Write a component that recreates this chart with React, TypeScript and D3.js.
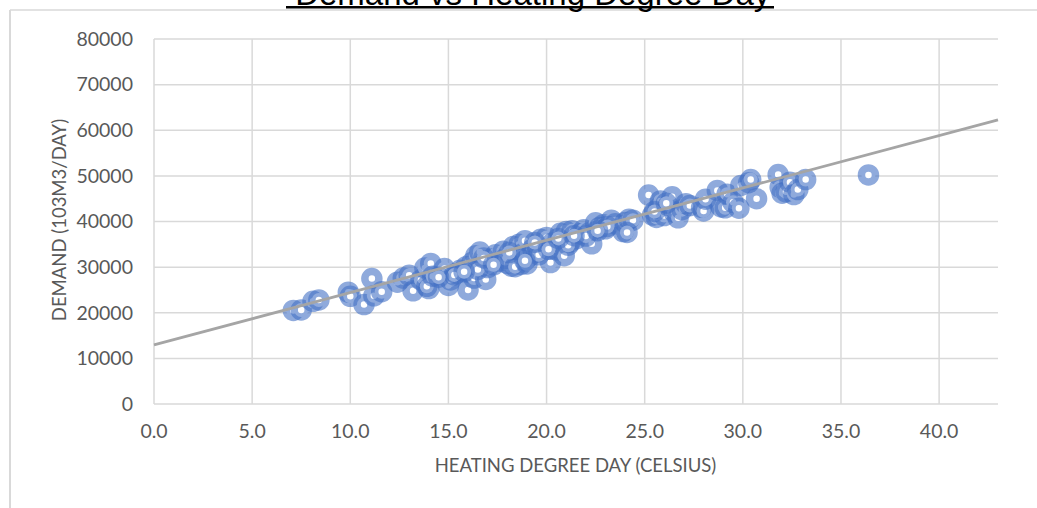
import React from "react";
import * as d3 from "d3";

const hdd = [
  7.1, 7.5, 8.1, 8.4, 9.9, 10.0, 10.7, 11.1, 11.2, 11.6, 12.4, 12.7, 13.0, 13.2, 13.6, 13.8, 14.0, 14.1, 13.9, 14.2,
  14.8, 15.0, 15.1, 15.4, 15.6, 15.9, 16.0, 16.1, 16.2, 16.3, 16.4, 16.6, 16.7, 16.9, 17.0, 17.2, 17.4, 17.6, 17.8, 18.0,
  18.2, 18.3, 18.5, 18.6, 18.7, 18.8, 18.9, 19.1, 19.3, 19.5, 19.7, 19.9, 20.0, 20.2, 20.3, 20.5, 20.7, 20.8, 20.9, 21.0,
  21.2, 21.3, 21.5, 21.7, 21.9, 22.2, 22.3, 22.5, 22.7, 22.9, 23.0, 23.3, 23.5, 23.9, 24.0, 24.2, 24.4, 25.2, 25.4, 25.6,
  25.7, 25.8, 26.0, 26.2, 26.4, 26.5, 26.7, 26.9, 27.1, 27.3, 27.9, 28.0, 28.1, 28.7, 28.9, 29.1, 29.2, 29.5, 29.8, 29.9,
  30.3, 30.4, 30.7, 31.8, 31.9, 32.0, 32.2, 32.4, 32.6, 32.8, 33.2, 36.4,
  15.3, 16.5, 17.9, 18.4, 19.0, 19.6, 21.1, 22.0, 23.1, 24.1,
  14.5, 15.8, 16.8, 17.3, 18.1, 18.9, 19.4, 20.1, 20.6, 21.4, 22.6, 25.5, 26.1,
];
const demand = [
  20500, 20600, 22500, 22800, 24500, 23600, 21800, 27500, 23700, 24600, 26700, 27600, 28200, 24800, 27200, 29800, 25300, 30800, 25800, 28000,
  29700, 26000, 27200, 28600, 29300, 30100, 25000, 28800, 31000, 27600, 32500, 33300, 30400, 27300, 29900, 31800, 32700, 31300, 33500, 30800,
  30200, 34500, 31500, 35000, 30600, 33000, 35800, 32300, 34000, 33300, 36100, 34800, 36500, 31000, 35300, 33800, 37400, 35100, 32500, 37800,
  35500, 38000, 36200, 37300, 38200, 37600, 35100, 39700, 38700, 39300, 38400, 40300, 39500, 37800, 39800, 40500, 40300, 45800, 41400, 40900,
  42900, 44500, 41300, 43500, 45400, 42100, 40800, 42600, 43900, 43500, 43100, 42300, 44900, 46800, 43200, 43000, 46000, 44200, 42900, 47900,
  48500, 49200, 45000, 50300, 47500, 46200, 46500, 48600, 45900, 47000, 49200, 50200,
  28300, 29500, 31900, 30100, 30700, 32700, 34800, 36800, 38900, 37600,
  27800, 29000, 32000, 30500, 33200, 31400, 35400, 33900, 36300, 36900, 38000, 42200, 44000,
];

const xTicks = [0, 5, 10, 15, 20, 25, 30, 35, 40];
const yTicks = [0, 10000, 20000, 30000, 40000, 50000, 60000, 70000, 80000];
const trendIntercept = 12950;
const trendSlope = 1147;

const title = " Demand vs Heating Degree Day";
const xTitle = "HEATING DEGREE DAY (CELSIUS)";
const yTitle = "DEMAND (103M3/DAY)";

export default function App() {
  const W = 1037;
  const H = 508;
  const x = d3.scaleLinear().domain([0, 43]).range([154, 998]);
  const y = d3.scaleLinear().domain([0, 80000]).range([404, 39]);
  const points = hdd.map((h, i) => ({ h, d: demand[i] }));
  const line = d3
    .line<number>()
    .x((v) => x(v))
    .y((v) => y(trendIntercept + trendSlope * v));
  const axisFont = "Lato, 'Open Sans', sans-serif";
  const gridColor = "#D9D9D9";
  const textColor = "#595959";

  return (
    <svg
      width={W}
      height={H}
      style={{ position: "absolute", left: 0, top: 0, background: "#fff" }}
    >
      {/* chart border */}
      <line x1={10} y1={10} x2={W} y2={10} stroke={gridColor} strokeWidth={1.5} />
      <line x1={10} y1={10} x2={10} y2={H} stroke={gridColor} strokeWidth={2} />

      {/* title */}
      <text
        x={286}
        y={5}
        fontFamily="'Liberation Sans', Arial, sans-serif"
        fontSize={33}
        fill="#000"
        style={{ whiteSpace: "pre" }}
        xmlSpace="preserve"
      >
        {title}
      </text>
      <rect x={286} y={6} width={488} height={2.5} fill="#000" />

      {/* gridlines */}
      {yTicks.map((t) => (
        <line key={"gy" + t} x1={x(0)} x2={x(43)} y1={y(t)} y2={y(t)} stroke={gridColor} strokeWidth={1.5} />
      ))}
      {xTicks.map((t) => (
        <line key={"gx" + t} x1={x(t)} x2={x(t)} y1={y(0)} y2={y(80000)} stroke={gridColor} strokeWidth={1.5} />
      ))}

      {/* tick labels */}
      {yTicks.map((t) => (
        <text
          key={"ty" + t}
          x={133}
          y={y(t)}
          dy="0.35em"
          textAnchor="end"
          fontFamily={axisFont}
          fontSize={19.5}
          fill={textColor}
        >
          {t}
        </text>
      ))}
      {xTicks.map((t) => (
        <text
          key={"tx" + t}
          x={x(t)}
          y={438}
          textAnchor="middle"
          fontFamily={axisFont}
          fontSize={19.5}
          fill={textColor}
        >
          {t.toFixed(1)}
        </text>
      ))}

      {/* axis titles */}
      <text
        x={575.5}
        y={472}
        textAnchor="middle"
        fontFamily={axisFont}
        fontSize={18.5}
        fill={textColor}
      >
        {xTitle}
      </text>
      <text
        transform={`translate(66,220) rotate(-90)`}
        textAnchor="middle"
        fontFamily={axisFont}
        fontSize={18.5}
        fill={textColor}
      >
        {yTitle}
      </text>

      {/* markers */}
      {points.map((p, i) => (
        <circle
          key={i}
          cx={x(p.h)}
          cy={y(p.d)}
          r={7}
          fill="#fff"
          stroke="#4472C4"
          strokeOpacity={0.6}
          strokeWidth={7.5}
        />
      ))}

      {/* trendline */}
      <path d={line([0, 43]) || ""} fill="none" stroke="#A5A5A5" strokeWidth={2.75} />
    </svg>
  );
}
